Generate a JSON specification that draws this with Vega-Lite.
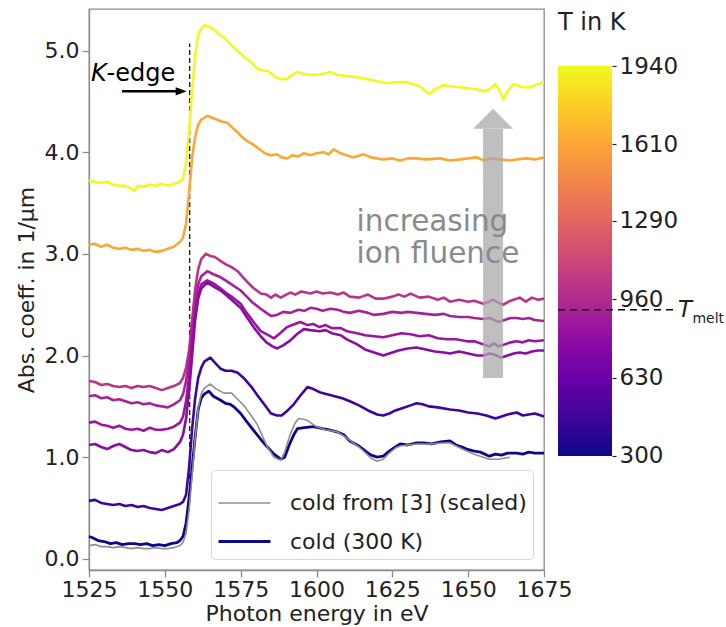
{
"$schema": "https://vega.github.io/schema/vega-lite/v6.json",
"padding": {"left": 14, "top": 8, "right": 2, "bottom": 2},
"config": {"font": "DejaVu Sans", "axis": {"grid": false}},
"bounds": "flush",
"spacing": 14,
"datasets": {
"hot": [
{"T":1940,"E":1525,"A":3.72},{"T":1940,"E":1527,"A":3.71},{"T":1940,"E":1529,"A":3.70},{"T":1940,"E":1531,"A":3.71},{"T":1940,"E":1533,"A":3.68},{"T":1940,"E":1535,"A":3.67},{"T":1940,"E":1537,"A":3.67},{"T":1940,"E":1539,"A":3.64},{"T":1940,"E":1540,"A":3.62},{"T":1940,"E":1541,"A":3.67},{"T":1940,"E":1543,"A":3.66},{"T":1940,"E":1545,"A":3.68},{"T":1940,"E":1547,"A":3.67},{"T":1940,"E":1549,"A":3.69},{"T":1940,"E":1551,"A":3.67},{"T":1940,"E":1553,"A":3.69},{"T":1940,"E":1555,"A":3.71},{"T":1940,"E":1556,"A":3.74},{"T":1940,"E":1557,"A":3.90},{"T":1940,"E":1558,"A":4.20},{"T":1940,"E":1559,"A":4.60},{"T":1940,"E":1560,"A":4.95},{"T":1940,"E":1561,"A":5.15},{"T":1940,"E":1562,"A":5.22},{"T":1940,"E":1563,"A":5.25},{"T":1940,"E":1564.5,"A":5.24},{"T":1940,"E":1566,"A":5.21},{"T":1940,"E":1568,"A":5.16},{"T":1940,"E":1569.5,"A":5.13},{"T":1940,"E":1572,"A":5.05},{"T":1940,"E":1575,"A":4.97},{"T":1940,"E":1577,"A":4.92},{"T":1940,"E":1579,"A":4.87},{"T":1940,"E":1580.5,"A":4.82},{"T":1940,"E":1582,"A":4.81},{"T":1940,"E":1584,"A":4.80},{"T":1940,"E":1586,"A":4.75},{"T":1940,"E":1588,"A":4.72},{"T":1940,"E":1590,"A":4.72},{"T":1940,"E":1592,"A":4.76},{"T":1940,"E":1593.6,"A":4.79},{"T":1940,"E":1596,"A":4.77},{"T":1940,"E":1599,"A":4.76},{"T":1940,"E":1602,"A":4.77},{"T":1940,"E":1604.6,"A":4.79},{"T":1940,"E":1607,"A":4.76},{"T":1940,"E":1610,"A":4.75},{"T":1940,"E":1613,"A":4.74},{"T":1940,"E":1616.7,"A":4.72},{"T":1940,"E":1620,"A":4.70},{"T":1940,"E":1623.3,"A":4.68},{"T":1940,"E":1626,"A":4.69},{"T":1940,"E":1629.8,"A":4.69},{"T":1940,"E":1632,"A":4.67},{"T":1940,"E":1634,"A":4.65},{"T":1940,"E":1636,"A":4.60},{"T":1940,"E":1637,"A":4.57},{"T":1940,"E":1639,"A":4.62},{"T":1940,"E":1641.8,"A":4.66},{"T":1940,"E":1644,"A":4.65},{"T":1940,"E":1647.4,"A":4.64},{"T":1940,"E":1650,"A":4.63},{"T":1940,"E":1653,"A":4.62},{"T":1940,"E":1655,"A":4.60},{"T":1940,"E":1657,"A":4.62},{"T":1940,"E":1659,"A":4.67},{"T":1940,"E":1660.5,"A":4.60},{"T":1940,"E":1661.6,"A":4.52},{"T":1940,"E":1663,"A":4.60},{"T":1940,"E":1665,"A":4.67},{"T":1940,"E":1668,"A":4.64},{"T":1940,"E":1670.4,"A":4.64},{"T":1940,"E":1673,"A":4.67},{"T":1940,"E":1675,"A":4.69},
{"T":1610,"E":1525,"A":3.09},{"T":1610,"E":1527,"A":3.10},{"T":1610,"E":1529,"A":3.07},{"T":1610,"E":1531,"A":3.09},{"T":1610,"E":1533,"A":3.06},{"T":1610,"E":1535,"A":3.05},{"T":1610,"E":1537,"A":3.06},{"T":1610,"E":1539,"A":3.04},{"T":1610,"E":1541,"A":3.05},{"T":1610,"E":1543,"A":3.03},{"T":1610,"E":1545,"A":3.04},{"T":1610,"E":1547,"A":3.02},{"T":1610,"E":1549,"A":3.03},{"T":1610,"E":1551,"A":3.05},{"T":1610,"E":1553,"A":3.07},{"T":1610,"E":1555,"A":3.12},{"T":1610,"E":1556,"A":3.16},{"T":1610,"E":1557,"A":3.30},{"T":1610,"E":1558,"A":3.60},{"T":1610,"E":1559,"A":3.95},{"T":1610,"E":1560,"A":4.15},{"T":1610,"E":1561,"A":4.27},{"T":1610,"E":1562,"A":4.32},{"T":1610,"E":1564,"A":4.36},{"T":1610,"E":1565.5,"A":4.34},{"T":1610,"E":1567.3,"A":4.32},{"T":1610,"E":1569,"A":4.30},{"T":1610,"E":1570.6,"A":4.29},{"T":1610,"E":1572,"A":4.25},{"T":1610,"E":1573.9,"A":4.20},{"T":1610,"E":1575.5,"A":4.15},{"T":1610,"E":1577.2,"A":4.11},{"T":1610,"E":1579.5,"A":4.07},{"T":1610,"E":1581.6,"A":4.02},{"T":1610,"E":1583,"A":3.99},{"T":1610,"E":1584.9,"A":3.97},{"T":1610,"E":1587,"A":3.98},{"T":1610,"E":1588.5,"A":3.95},{"T":1610,"E":1590.4,"A":3.94},{"T":1610,"E":1592,"A":3.97},{"T":1610,"E":1594,"A":3.96},{"T":1610,"E":1595.8,"A":3.99},{"T":1610,"E":1598,"A":3.97},{"T":1610,"E":1600,"A":3.99},{"T":1610,"E":1602.4,"A":4.00},{"T":1610,"E":1604,"A":3.98},{"T":1610,"E":1605.7,"A":4.03},{"T":1610,"E":1608,"A":3.99},{"T":1610,"E":1610,"A":3.97},{"T":1610,"E":1612,"A":3.95},{"T":1610,"E":1615.6,"A":3.98},{"T":1610,"E":1618,"A":3.95},{"T":1610,"E":1622,"A":3.93},{"T":1610,"E":1625,"A":3.94},{"T":1610,"E":1627.6,"A":3.92},{"T":1610,"E":1630,"A":3.94},{"T":1610,"E":1633,"A":3.94},{"T":1610,"E":1636,"A":3.93},{"T":1610,"E":1640.8,"A":3.94},{"T":1610,"E":1644,"A":3.92},{"T":1610,"E":1647.4,"A":3.93},{"T":1610,"E":1650,"A":3.94},{"T":1610,"E":1652.9,"A":3.95},{"T":1610,"E":1655,"A":3.92},{"T":1610,"E":1657.2,"A":3.94},{"T":1610,"E":1660,"A":3.93},{"T":1610,"E":1663.8,"A":3.92},{"T":1610,"E":1666,"A":3.93},{"T":1610,"E":1669.3,"A":3.94},{"T":1610,"E":1672,"A":3.93},{"T":1610,"E":1675,"A":3.95},
{"T":1005,"E":1525,"A":1.75},{"T":1005,"E":1527,"A":1.74},{"T":1005,"E":1529,"A":1.71},{"T":1005,"E":1531,"A":1.72},{"T":1005,"E":1533,"A":1.70},{"T":1005,"E":1535,"A":1.69},{"T":1005,"E":1537,"A":1.70},{"T":1005,"E":1539,"A":1.68},{"T":1005,"E":1541,"A":1.70},{"T":1005,"E":1543,"A":1.69},{"T":1005,"E":1545,"A":1.70},{"T":1005,"E":1547,"A":1.68},{"T":1005,"E":1549,"A":1.66},{"T":1005,"E":1551,"A":1.68},{"T":1005,"E":1553,"A":1.70},{"T":1005,"E":1555,"A":1.73},{"T":1005,"E":1556,"A":1.78},{"T":1005,"E":1557,"A":1.88},{"T":1005,"E":1558,"A":2.05},{"T":1005,"E":1559,"A":2.35},{"T":1005,"E":1560,"A":2.65},{"T":1005,"E":1561,"A":2.85},{"T":1005,"E":1562,"A":2.95},{"T":1005,"E":1563.5,"A":3.00},{"T":1005,"E":1565,"A":2.98},{"T":1005,"E":1566.5,"A":2.97},{"T":1005,"E":1568.4,"A":2.93},{"T":1005,"E":1570,"A":2.90},{"T":1005,"E":1572,"A":2.87},{"T":1005,"E":1574,"A":2.83},{"T":1005,"E":1575.5,"A":2.78},{"T":1005,"E":1577,"A":2.73},{"T":1005,"E":1579,"A":2.67},{"T":1005,"E":1581.6,"A":2.61},{"T":1005,"E":1583.5,"A":2.60},{"T":1005,"E":1585,"A":2.57},{"T":1005,"E":1586.5,"A":2.60},{"T":1005,"E":1588.2,"A":2.57},{"T":1005,"E":1590,"A":2.60},{"T":1005,"E":1591.4,"A":2.62},{"T":1005,"E":1593,"A":2.60},{"T":1005,"E":1595,"A":2.63},{"T":1005,"E":1598,"A":2.61},{"T":1005,"E":1600,"A":2.63},{"T":1005,"E":1602,"A":2.61},{"T":1005,"E":1604.6,"A":2.62},{"T":1005,"E":1607,"A":2.60},{"T":1005,"E":1609,"A":2.62},{"T":1005,"E":1611,"A":2.58},{"T":1005,"E":1614,"A":2.57},{"T":1005,"E":1617,"A":2.60},{"T":1005,"E":1619.5,"A":2.56},{"T":1005,"E":1622,"A":2.56},{"T":1005,"E":1625,"A":2.58},{"T":1005,"E":1627,"A":2.60},{"T":1005,"E":1629,"A":2.58},{"T":1005,"E":1631,"A":2.61},{"T":1005,"E":1634,"A":2.57},{"T":1005,"E":1637,"A":2.58},{"T":1005,"E":1640,"A":2.55},{"T":1005,"E":1642,"A":2.57},{"T":1005,"E":1644,"A":2.53},{"T":1005,"E":1647,"A":2.55},{"T":1005,"E":1650,"A":2.53},{"T":1005,"E":1652,"A":2.54},{"T":1005,"E":1655,"A":2.51},{"T":1005,"E":1657,"A":2.53},{"T":1005,"E":1658,"A":2.55},{"T":1005,"E":1660,"A":2.52},{"T":1005,"E":1661.5,"A":2.50},{"T":1005,"E":1664,"A":2.54},{"T":1005,"E":1667,"A":2.57},{"T":1005,"E":1669,"A":2.53},{"T":1005,"E":1671,"A":2.57},{"T":1005,"E":1673,"A":2.55},{"T":1005,"E":1675,"A":2.56},
{"T":905,"E":1525,"A":1.60},{"T":905,"E":1527,"A":1.61},{"T":905,"E":1529,"A":1.58},{"T":905,"E":1531,"A":1.59},{"T":905,"E":1533,"A":1.56},{"T":905,"E":1535,"A":1.57},{"T":905,"E":1537,"A":1.55},{"T":905,"E":1539,"A":1.53},{"T":905,"E":1541,"A":1.54},{"T":905,"E":1543,"A":1.52},{"T":905,"E":1545,"A":1.53},{"T":905,"E":1547,"A":1.51},{"T":905,"E":1549,"A":1.50},{"T":905,"E":1551,"A":1.49},{"T":905,"E":1553,"A":1.52},{"T":905,"E":1555,"A":1.56},{"T":905,"E":1556,"A":1.62},{"T":905,"E":1557,"A":1.75},{"T":905,"E":1558,"A":1.95},{"T":905,"E":1559,"A":2.25},{"T":905,"E":1560,"A":2.52},{"T":905,"E":1561,"A":2.70},{"T":905,"E":1562,"A":2.78},{"T":905,"E":1564,"A":2.83},{"T":905,"E":1566,"A":2.80},{"T":905,"E":1568.4,"A":2.77},{"T":905,"E":1570,"A":2.74},{"T":905,"E":1572,"A":2.70},{"T":905,"E":1575,"A":2.64},{"T":905,"E":1577,"A":2.58},{"T":905,"E":1579,"A":2.52},{"T":905,"E":1581.6,"A":2.46},{"T":905,"E":1583.5,"A":2.42},{"T":905,"E":1585,"A":2.39},{"T":905,"E":1587,"A":2.40},{"T":905,"E":1589,"A":2.43},{"T":905,"E":1591.4,"A":2.42},{"T":905,"E":1594,"A":2.45},{"T":905,"E":1596,"A":2.44},{"T":905,"E":1598,"A":2.47},{"T":905,"E":1600,"A":2.46},{"T":905,"E":1602,"A":2.44},{"T":905,"E":1604.6,"A":2.46},{"T":905,"E":1607,"A":2.45},{"T":905,"E":1609,"A":2.43},{"T":905,"E":1611,"A":2.42},{"T":905,"E":1614,"A":2.44},{"T":905,"E":1617,"A":2.42},{"T":905,"E":1619,"A":2.40},{"T":905,"E":1622,"A":2.41},{"T":905,"E":1625,"A":2.43},{"T":905,"E":1628,"A":2.42},{"T":905,"E":1630,"A":2.43},{"T":905,"E":1633,"A":2.42},{"T":905,"E":1636,"A":2.41},{"T":905,"E":1639,"A":2.40},{"T":905,"E":1642,"A":2.41},{"T":905,"E":1644,"A":2.39},{"T":905,"E":1647,"A":2.38},{"T":905,"E":1650,"A":2.38},{"T":905,"E":1652,"A":2.37},{"T":905,"E":1655,"A":2.36},{"T":905,"E":1657,"A":2.37},{"T":905,"E":1658.5,"A":2.35},{"T":905,"E":1660,"A":2.33},{"T":905,"E":1662,"A":2.35},{"T":905,"E":1664,"A":2.37},{"T":905,"E":1666,"A":2.37},{"T":905,"E":1668,"A":2.36},{"T":905,"E":1670,"A":2.37},{"T":905,"E":1672,"A":2.35},{"T":905,"E":1675,"A":2.34},
{"T":840,"E":1525,"A":1.34},{"T":840,"E":1527,"A":1.35},{"T":840,"E":1529,"A":1.32},{"T":840,"E":1531,"A":1.31},{"T":840,"E":1533,"A":1.29},{"T":840,"E":1535,"A":1.31},{"T":840,"E":1537,"A":1.28},{"T":840,"E":1539,"A":1.27},{"T":840,"E":1541,"A":1.28},{"T":840,"E":1543,"A":1.26},{"T":840,"E":1545,"A":1.29},{"T":840,"E":1547,"A":1.27},{"T":840,"E":1549,"A":1.27},{"T":840,"E":1551,"A":1.28},{"T":840,"E":1553,"A":1.30},{"T":840,"E":1555,"A":1.34},{"T":840,"E":1556,"A":1.40},{"T":840,"E":1557,"A":1.55},{"T":840,"E":1558,"A":1.80},{"T":840,"E":1559,"A":2.12},{"T":840,"E":1560,"A":2.42},{"T":840,"E":1561,"A":2.60},{"T":840,"E":1562,"A":2.70},{"T":840,"E":1564,"A":2.74},{"T":840,"E":1566,"A":2.71},{"T":840,"E":1568.4,"A":2.66},{"T":840,"E":1570,"A":2.62},{"T":840,"E":1572,"A":2.58},{"T":840,"E":1575,"A":2.51},{"T":840,"E":1577,"A":2.42},{"T":840,"E":1579.5,"A":2.32},{"T":840,"E":1581.6,"A":2.24},{"T":840,"E":1583.5,"A":2.21},{"T":840,"E":1586,"A":2.17},{"T":840,"E":1588,"A":2.22},{"T":840,"E":1590.3,"A":2.28},{"T":840,"E":1592,"A":2.30},{"T":840,"E":1594.7,"A":2.33},{"T":840,"E":1597,"A":2.30},{"T":840,"E":1599,"A":2.31},{"T":840,"E":1601,"A":2.28},{"T":840,"E":1603,"A":2.30},{"T":840,"E":1605,"A":2.27},{"T":840,"E":1608,"A":2.27},{"T":840,"E":1610,"A":2.24},{"T":840,"E":1613.4,"A":2.22},{"T":840,"E":1616,"A":2.20},{"T":840,"E":1619,"A":2.19},{"T":840,"E":1622,"A":2.18},{"T":840,"E":1625,"A":2.20},{"T":840,"E":1628,"A":2.22},{"T":840,"E":1631,"A":2.21},{"T":840,"E":1634,"A":2.19},{"T":840,"E":1637,"A":2.20},{"T":840,"E":1640,"A":2.17},{"T":840,"E":1643,"A":2.16},{"T":840,"E":1646,"A":2.16},{"T":840,"E":1649.6,"A":2.14},{"T":840,"E":1652,"A":2.14},{"T":840,"E":1655,"A":2.11},{"T":840,"E":1657,"A":2.09},{"T":840,"E":1658.5,"A":2.12},{"T":840,"E":1660,"A":2.09},{"T":840,"E":1662,"A":2.11},{"T":840,"E":1664,"A":2.13},{"T":840,"E":1666,"A":2.14},{"T":840,"E":1668,"A":2.13},{"T":840,"E":1670,"A":2.15},{"T":840,"E":1672,"A":2.14},{"T":840,"E":1675,"A":2.15},
{"T":775,"E":1525,"A":1.12},{"T":775,"E":1527,"A":1.13},{"T":775,"E":1529,"A":1.10},{"T":775,"E":1531,"A":1.08},{"T":775,"E":1533,"A":1.11},{"T":775,"E":1535,"A":1.13},{"T":775,"E":1537,"A":1.10},{"T":775,"E":1539,"A":1.07},{"T":775,"E":1541,"A":1.06},{"T":775,"E":1543,"A":1.07},{"T":775,"E":1545,"A":1.05},{"T":775,"E":1547,"A":1.04},{"T":775,"E":1549,"A":1.07},{"T":775,"E":1551,"A":1.05},{"T":775,"E":1553,"A":1.08},{"T":775,"E":1555,"A":1.15},{"T":775,"E":1556,"A":1.22},{"T":775,"E":1557,"A":1.38},{"T":775,"E":1558,"A":1.65},{"T":775,"E":1559,"A":2.00},{"T":775,"E":1560,"A":2.35},{"T":775,"E":1561,"A":2.56},{"T":775,"E":1562,"A":2.66},{"T":775,"E":1564,"A":2.72},{"T":775,"E":1566,"A":2.68},{"T":775,"E":1568.4,"A":2.64},{"T":775,"E":1570,"A":2.60},{"T":775,"E":1572,"A":2.55},{"T":775,"E":1575,"A":2.47},{"T":775,"E":1577,"A":2.38},{"T":775,"E":1579.5,"A":2.27},{"T":775,"E":1581.6,"A":2.19},{"T":775,"E":1583.5,"A":2.13},{"T":775,"E":1585.5,"A":2.09},{"T":775,"E":1587,"A":2.07},{"T":775,"E":1589,"A":2.10},{"T":775,"E":1591.4,"A":2.15},{"T":775,"E":1593.5,"A":2.21},{"T":775,"E":1595.8,"A":2.26},{"T":775,"E":1598,"A":2.25},{"T":775,"E":1601,"A":2.24},{"T":775,"E":1603,"A":2.25},{"T":775,"E":1605,"A":2.22},{"T":775,"E":1608,"A":2.20},{"T":775,"E":1610,"A":2.16},{"T":775,"E":1613.4,"A":2.11},{"T":775,"E":1616,"A":2.06},{"T":775,"E":1619,"A":2.03},{"T":775,"E":1622,"A":2.00},{"T":775,"E":1624,"A":2.02},{"T":775,"E":1627,"A":2.05},{"T":775,"E":1630,"A":2.07},{"T":775,"E":1633,"A":2.08},{"T":775,"E":1636,"A":2.06},{"T":775,"E":1639,"A":2.04},{"T":775,"E":1642,"A":2.03},{"T":775,"E":1644,"A":2.02},{"T":775,"E":1647,"A":2.04},{"T":775,"E":1650,"A":2.02},{"T":775,"E":1653,"A":2.00},{"T":775,"E":1655,"A":2.00},{"T":775,"E":1657,"A":2.02},{"T":775,"E":1658.5,"A":2.01},{"T":775,"E":1661,"A":1.98},{"T":775,"E":1663,"A":2.00},{"T":775,"E":1665,"A":2.02},{"T":775,"E":1667,"A":2.03},{"T":775,"E":1669,"A":2.02},{"T":775,"E":1671,"A":2.04},{"T":775,"E":1673,"A":2.05},{"T":775,"E":1675,"A":2.05},
{"T":450,"E":1525,"A":0.57},{"T":450,"E":1527,"A":0.58},{"T":450,"E":1529,"A":0.55},{"T":450,"E":1531,"A":0.54},{"T":450,"E":1533,"A":0.53},{"T":450,"E":1535,"A":0.54},{"T":450,"E":1537,"A":0.52},{"T":450,"E":1539,"A":0.53},{"T":450,"E":1541,"A":0.51},{"T":450,"E":1543,"A":0.52},{"T":450,"E":1545,"A":0.50},{"T":450,"E":1547,"A":0.49},{"T":450,"E":1549,"A":0.48},{"T":450,"E":1551,"A":0.50},{"T":450,"E":1553,"A":0.52},{"T":450,"E":1555,"A":0.54},{"T":450,"E":1556,"A":0.56},{"T":450,"E":1557,"A":0.63},{"T":450,"E":1558,"A":0.90},{"T":450,"E":1559,"A":1.28},{"T":450,"E":1560,"A":1.58},{"T":450,"E":1561,"A":1.78},{"T":450,"E":1562,"A":1.88},{"T":450,"E":1563,"A":1.94},{"T":450,"E":1565,"A":1.98},{"T":450,"E":1566.5,"A":1.93},{"T":450,"E":1568.4,"A":1.87},{"T":450,"E":1570,"A":1.85},{"T":450,"E":1572,"A":1.85},{"T":450,"E":1574,"A":1.83},{"T":450,"E":1576,"A":1.78},{"T":450,"E":1578.6,"A":1.69},{"T":450,"E":1580.5,"A":1.61},{"T":450,"E":1582.5,"A":1.53},{"T":450,"E":1585,"A":1.43},{"T":450,"E":1587,"A":1.41},{"T":450,"E":1588.5,"A":1.41},{"T":450,"E":1590.5,"A":1.46},{"T":450,"E":1592.5,"A":1.52},{"T":450,"E":1594.5,"A":1.60},{"T":450,"E":1597,"A":1.69},{"T":450,"E":1599,"A":1.67},{"T":450,"E":1601,"A":1.64},{"T":450,"E":1603.5,"A":1.62},{"T":450,"E":1606,"A":1.60},{"T":450,"E":1608.5,"A":1.58},{"T":450,"E":1611,"A":1.55},{"T":450,"E":1614,"A":1.51},{"T":450,"E":1617,"A":1.46},{"T":450,"E":1620,"A":1.42},{"T":450,"E":1622,"A":1.41},{"T":450,"E":1624,"A":1.43},{"T":450,"E":1626,"A":1.46},{"T":450,"E":1628,"A":1.48},{"T":450,"E":1631,"A":1.51},{"T":450,"E":1633,"A":1.53},{"T":450,"E":1635,"A":1.52},{"T":450,"E":1637,"A":1.50},{"T":450,"E":1640,"A":1.49},{"T":450,"E":1644,"A":1.47},{"T":450,"E":1647,"A":1.46},{"T":450,"E":1650,"A":1.44},{"T":450,"E":1653,"A":1.43},{"T":450,"E":1656,"A":1.41},{"T":450,"E":1659,"A":1.38},{"T":450,"E":1661,"A":1.40},{"T":450,"E":1663,"A":1.42},{"T":450,"E":1666,"A":1.44},{"T":450,"E":1668,"A":1.41},{"T":450,"E":1670,"A":1.42},{"T":450,"E":1672,"A":1.43},{"T":450,"E":1675,"A":1.40}
],
"cold": [
{"L":"cold (300 K)","E":1525,"A":0.22},{"L":"cold (300 K)","E":1526,"A":0.21},{"L":"cold (300 K)","E":1528,"A":0.18},{"L":"cold (300 K)","E":1530,"A":0.17},{"L":"cold (300 K)","E":1532,"A":0.15},{"L":"cold (300 K)","E":1534,"A":0.16},{"L":"cold (300 K)","E":1536,"A":0.14},{"L":"cold (300 K)","E":1538,"A":0.15},{"L":"cold (300 K)","E":1540,"A":0.15},{"L":"cold (300 K)","E":1542,"A":0.14},{"L":"cold (300 K)","E":1544,"A":0.15},{"L":"cold (300 K)","E":1546,"A":0.13},{"L":"cold (300 K)","E":1548,"A":0.14},{"L":"cold (300 K)","E":1550,"A":0.13},{"L":"cold (300 K)","E":1552,"A":0.15},{"L":"cold (300 K)","E":1554,"A":0.16},{"L":"cold (300 K)","E":1555,"A":0.18},{"L":"cold (300 K)","E":1556,"A":0.22},{"L":"cold (300 K)","E":1557,"A":0.35},{"L":"cold (300 K)","E":1558,"A":0.60},{"L":"cold (300 K)","E":1559,"A":0.90},{"L":"cold (300 K)","E":1560,"A":1.20},{"L":"cold (300 K)","E":1561,"A":1.47},{"L":"cold (300 K)","E":1562,"A":1.58},{"L":"cold (300 K)","E":1563,"A":1.62},{"L":"cold (300 K)","E":1564.5,"A":1.65},{"L":"cold (300 K)","E":1566,"A":1.60},{"L":"cold (300 K)","E":1568.4,"A":1.56},{"L":"cold (300 K)","E":1570,"A":1.53},{"L":"cold (300 K)","E":1571.6,"A":1.52},{"L":"cold (300 K)","E":1573,"A":1.49},{"L":"cold (300 K)","E":1575,"A":1.43},{"L":"cold (300 K)","E":1577,"A":1.35},{"L":"cold (300 K)","E":1579.4,"A":1.26},{"L":"cold (300 K)","E":1581.5,"A":1.18},{"L":"cold (300 K)","E":1583.8,"A":1.10},{"L":"cold (300 K)","E":1586,"A":1.03},{"L":"cold (300 K)","E":1588.2,"A":0.98},{"L":"cold (300 K)","E":1589.5,"A":1.00},{"L":"cold (300 K)","E":1591,"A":1.12},{"L":"cold (300 K)","E":1592.5,"A":1.22},{"L":"cold (300 K)","E":1593.7,"A":1.28},{"L":"cold (300 K)","E":1596,"A":1.29},{"L":"cold (300 K)","E":1599,"A":1.30},{"L":"cold (300 K)","E":1602,"A":1.28},{"L":"cold (300 K)","E":1604,"A":1.27},{"L":"cold (300 K)","E":1606.7,"A":1.25},{"L":"cold (300 K)","E":1609,"A":1.22},{"L":"cold (300 K)","E":1611,"A":1.16},{"L":"cold (300 K)","E":1614,"A":1.11},{"L":"cold (300 K)","E":1616.6,"A":1.05},{"L":"cold (300 K)","E":1618,"A":1.02},{"L":"cold (300 K)","E":1620,"A":1.00},{"L":"cold (300 K)","E":1622,"A":1.01},{"L":"cold (300 K)","E":1624,"A":1.06},{"L":"cold (300 K)","E":1626,"A":1.10},{"L":"cold (300 K)","E":1627.6,"A":1.13},{"L":"cold (300 K)","E":1630,"A":1.12},{"L":"cold (300 K)","E":1633,"A":1.14},{"L":"cold (300 K)","E":1635.3,"A":1.14},{"L":"cold (300 K)","E":1638,"A":1.13},{"L":"cold (300 K)","E":1641,"A":1.15},{"L":"cold (300 K)","E":1644,"A":1.16},{"L":"cold (300 K)","E":1646,"A":1.12},{"L":"cold (300 K)","E":1648,"A":1.10},{"L":"cold (300 K)","E":1649.5,"A":1.08},{"L":"cold (300 K)","E":1652,"A":1.06},{"L":"cold (300 K)","E":1654,"A":1.05},{"L":"cold (300 K)","E":1657,"A":1.01},{"L":"cold (300 K)","E":1659,"A":1.03},{"L":"cold (300 K)","E":1661,"A":1.02},{"L":"cold (300 K)","E":1663,"A":1.04},{"L":"cold (300 K)","E":1666,"A":1.04},{"L":"cold (300 K)","E":1668,"A":1.03},{"L":"cold (300 K)","E":1670,"A":1.05},{"L":"cold (300 K)","E":1672,"A":1.04},{"L":"cold (300 K)","E":1675,"A":1.04},
{"L":"cold from [3] (scaled)","E":1525,"A":0.13},{"L":"cold from [3] (scaled)","E":1527,"A":0.14},{"L":"cold from [3] (scaled)","E":1529,"A":0.12},{"L":"cold from [3] (scaled)","E":1531,"A":0.12},{"L":"cold from [3] (scaled)","E":1533,"A":0.11},{"L":"cold from [3] (scaled)","E":1535,"A":0.12},{"L":"cold from [3] (scaled)","E":1537,"A":0.11},{"L":"cold from [3] (scaled)","E":1539,"A":0.10},{"L":"cold from [3] (scaled)","E":1541,"A":0.11},{"L":"cold from [3] (scaled)","E":1543,"A":0.10},{"L":"cold from [3] (scaled)","E":1545,"A":0.10},{"L":"cold from [3] (scaled)","E":1547,"A":0.11},{"L":"cold from [3] (scaled)","E":1549,"A":0.10},{"L":"cold from [3] (scaled)","E":1551,"A":0.10},{"L":"cold from [3] (scaled)","E":1553,"A":0.11},{"L":"cold from [3] (scaled)","E":1555,"A":0.13},{"L":"cold from [3] (scaled)","E":1556,"A":0.16},{"L":"cold from [3] (scaled)","E":1557,"A":0.25},{"L":"cold from [3] (scaled)","E":1558,"A":0.48},{"L":"cold from [3] (scaled)","E":1559,"A":0.82},{"L":"cold from [3] (scaled)","E":1560,"A":1.18},{"L":"cold from [3] (scaled)","E":1561,"A":1.48},{"L":"cold from [3] (scaled)","E":1562,"A":1.62},{"L":"cold from [3] (scaled)","E":1563,"A":1.68},{"L":"cold from [3] (scaled)","E":1565,"A":1.72},{"L":"cold from [3] (scaled)","E":1567,"A":1.67},{"L":"cold from [3] (scaled)","E":1569.5,"A":1.63},{"L":"cold from [3] (scaled)","E":1572,"A":1.63},{"L":"cold from [3] (scaled)","E":1574,"A":1.57},{"L":"cold from [3] (scaled)","E":1576,"A":1.51},{"L":"cold from [3] (scaled)","E":1578,"A":1.43},{"L":"cold from [3] (scaled)","E":1580.5,"A":1.32},{"L":"cold from [3] (scaled)","E":1582,"A":1.22},{"L":"cold from [3] (scaled)","E":1583.8,"A":1.10},{"L":"cold from [3] (scaled)","E":1586,"A":1.00},{"L":"cold from [3] (scaled)","E":1588.2,"A":0.97},{"L":"cold from [3] (scaled)","E":1589.5,"A":1.05},{"L":"cold from [3] (scaled)","E":1591.4,"A":1.23},{"L":"cold from [3] (scaled)","E":1593,"A":1.34},{"L":"cold from [3] (scaled)","E":1594.2,"A":1.38},{"L":"cold from [3] (scaled)","E":1596,"A":1.37},{"L":"cold from [3] (scaled)","E":1597,"A":1.36},{"L":"cold from [3] (scaled)","E":1600,"A":1.30},{"L":"cold from [3] (scaled)","E":1603,"A":1.27},{"L":"cold from [3] (scaled)","E":1606.7,"A":1.25},{"L":"cold from [3] (scaled)","E":1610,"A":1.19},{"L":"cold from [3] (scaled)","E":1614,"A":1.10},{"L":"cold from [3] (scaled)","E":1616.6,"A":1.03},{"L":"cold from [3] (scaled)","E":1618,"A":0.99},{"L":"cold from [3] (scaled)","E":1620,"A":0.96},{"L":"cold from [3] (scaled)","E":1622,"A":0.98},{"L":"cold from [3] (scaled)","E":1624,"A":1.04},{"L":"cold from [3] (scaled)","E":1626,"A":1.09},{"L":"cold from [3] (scaled)","E":1627.6,"A":1.11},{"L":"cold from [3] (scaled)","E":1630,"A":1.12},{"L":"cold from [3] (scaled)","E":1633,"A":1.13},{"L":"cold from [3] (scaled)","E":1635.3,"A":1.13},{"L":"cold from [3] (scaled)","E":1638,"A":1.13},{"L":"cold from [3] (scaled)","E":1641,"A":1.14},{"L":"cold from [3] (scaled)","E":1644,"A":1.14},{"L":"cold from [3] (scaled)","E":1646,"A":1.11},{"L":"cold from [3] (scaled)","E":1648,"A":1.08},{"L":"cold from [3] (scaled)","E":1649.5,"A":1.06},{"L":"cold from [3] (scaled)","E":1652,"A":1.03},{"L":"cold from [3] (scaled)","E":1654,"A":1.01},{"L":"cold from [3] (scaled)","E":1657,"A":0.98},{"L":"cold from [3] (scaled)","E":1660,"A":0.98},{"L":"cold from [3] (scaled)","E":1663.7,"A":1.00}
]
},
"hconcat": [
{
"width": 455, "height": 561,
"view": {"stroke": "#8c8c8c", "strokeWidth": 1.3},
"layer": [
{"data": {"values": [{}]}, "mark": {"type": "rule", "color": "black", "strokeWidth": 1.2, "strokeDash": [5, 3]},
 "encoding": {"x": {"datum": 1558.2, "type": "quantitative"}, "y": {"datum": 0.55, "type": "quantitative"}, "y2": {"datum": 5.07}}},
{"data": {"name": "hot"}, "mark": {"type": "line", "strokeWidth": 2.6, "strokeJoin": "round"},
 "encoding": {
  "x": {"field": "E", "type": "quantitative", "scale": {"domain": [1525, 1675], "nice": false, "zero": false},
        "axis": {"title": "Photon energy in eV", "values": [1525, 1550, 1575, 1600, 1625, 1650, 1675], "format": "d", "labelOverlap": false, "labelFlush": false, "labelFontSize": 22, "titleFontSize": 22, "titleFontWeight": "normal", "tickSize": 7, "labelPadding": 2, "titlePadding": 3, "domainColor": "#8c8c8c", "tickColor": "#8c8c8c", "domainWidth": 1.3, "tickWidth": 1.3, "labelColor": "#222", "titleColor": "#222", "grid": false}},
  "y": {"field": "A", "type": "quantitative", "scale": {"domain": [-0.11, 5.41], "nice": false, "zero": false},
        "axis": {"title": "Abs. coeff. in 1/µm", "values": [0, 1, 2, 3, 4, 5], "format": ".1f", "labelOverlap": false, "labelFlush": false, "labelFontSize": 22, "titleFontSize": 22, "titleFontWeight": "normal", "tickSize": 7, "labelPadding": 3, "titlePadding": 6, "domainColor": "#8c8c8c", "tickColor": "#8c8c8c", "domainWidth": 1.3, "tickWidth": 1.3, "labelColor": "#222", "titleColor": "#222", "grid": false}},
  "color": {"field": "T", "type": "quantitative", "scale": {"scheme": "plasma", "domain": [300, 1940]}, "legend": null},
  "detail": {"field": "T", "type": "nominal"}
 }},
{"data": {"name": "cold"}, "mark": {"type": "line", "strokeJoin": "round"},
 "encoding": {
  "x": {"field": "E", "type": "quantitative"},
  "y": {"field": "A", "type": "quantitative"},
  "color": {"field": "L", "type": "nominal", "scale": {"domain": ["cold from [3] (scaled)", "cold (300 K)"], "range": ["#8f8f8f", "#0d0887"]},
            "legend": {"orient": "bottom-right", "offset": 11, "title": null, "symbolType": "stroke", "symbolSize": 2704, "labelFontSize": 22, "labelLimit": 400, "labelColor": "#222", "labelOffset": 18, "padding": 6, "rowPadding": -3, "fillColor": "rgba(255,255,255,0.92)", "strokeColor": "#d6d6d6", "cornerRadius": 4}},
  "strokeWidth": {"field": "L", "type": "nominal", "scale": {"domain": ["cold from [3] (scaled)", "cold (300 K)"], "range": [1.6, 2.8]},
            "legend": {"orient": "bottom-right", "offset": 11, "title": null, "symbolType": "stroke", "symbolSize": 2704, "labelFontSize": 22, "labelLimit": 400, "labelColor": "#222", "labelOffset": 18, "padding": 6, "rowPadding": -3, "fillColor": "rgba(255,255,255,0.92)", "strokeColor": "#d6d6d6", "cornerRadius": 4}}
 }},
{"data": {"values": [{}]}, "mark": {"type": "rule", "color": "#aaaaaa", "opacity": 0.75, "strokeWidth": 20, "strokeCap": "butt"},
 "encoding": {"x": {"datum": 1658.2, "type": "quantitative"}, "y": {"datum": 1.78, "type": "quantitative"}, "y2": {"datum": 4.23}}},
{"data": {"values": [{}]}, "mark": {"type": "point", "shape": "M-1,0.5L0,-0.5L1,0.5Z", "size": 1600, "filled": true, "color": "#aaaaaa", "opacity": 0.75, "strokeWidth": 0},
 "encoding": {"x": {"datum": 1658.2, "type": "quantitative"}, "y": {"datum": 4.33, "type": "quantitative"}}},
{"data": {"values": [{}]}, "mark": {"type": "text", "text": ["increasing", "ion fluence"], "lineHeight": 32, "fontSize": 29.5, "color": "#8a8a8a", "align": "left", "baseline": "alphabetic"},
 "encoding": {"x": {"datum": 1613.2, "type": "quantitative"}, "y": {"datum": 3.23, "type": "quantitative"}}},
{"data": {"values": [{}]}, "mark": {"type": "rule", "color": "black", "strokeWidth": 2.5},
 "encoding": {"x": {"datum": 1535.9, "type": "quantitative"}, "x2": {"datum": 1555.0}, "y": {"datum": 4.60, "type": "quantitative"}}},
{"data": {"values": [{}]}, "mark": {"type": "point", "shape": "M-1,-0.75L1,0L-1,0.75Z", "size": 121, "filled": true, "color": "black", "opacity": 1, "strokeWidth": 0},
 "encoding": {"x": {"datum": 1555.4, "type": "quantitative"}, "y": {"datum": 4.60, "type": "quantitative"}}},
{"data": {"values": [{}]}, "mark": {"type": "text", "text": "K", "fontStyle": "italic", "fontSize": 24, "color": "black", "align": "left", "baseline": "alphabetic"},
 "encoding": {"x": {"datum": 1525.66, "type": "quantitative"}, "y": {"datum": 4.70, "type": "quantitative"}}},
{"data": {"values": [{}]}, "mark": {"type": "text", "text": "-edge", "fontSize": 24, "color": "black", "align": "left", "baseline": "alphabetic"},
 "encoding": {"x": {"datum": 1530.8, "type": "quantitative"}, "y": {"datum": 4.70, "type": "quantitative"}}}
],
"resolve": {"scale": {"color": "independent", "strokeWidth": "independent"}}
},
{
"width": 54, "height": 561,
"view": {"stroke": null},
"layer": [
{"data": {"values": [{"lo": 300, "hi": 1940}]},
 "mark": {"type": "rect", "stroke": null, "color": {"gradient": "linear", "x1": 0, "y1": 1, "x2": 0, "y2": 0, "stops": [
   {"offset": 0, "color": "#0d0887"}, {"offset": 0.1, "color": "#41049d"}, {"offset": 0.2, "color": "#6a00a8"}, {"offset": 0.3, "color": "#8f0da4"}, {"offset": 0.4, "color": "#b12a90"}, {"offset": 0.5, "color": "#cc4778"}, {"offset": 0.6, "color": "#e16462"}, {"offset": 0.7, "color": "#f2844b"}, {"offset": 0.8, "color": "#fca636"}, {"offset": 0.9, "color": "#fcce25"}, {"offset": 1, "color": "#f0f921"}]}},
 "encoding": {
  "x": {"datum": 0, "type": "quantitative", "scale": {"domain": [0, 1], "nice": false, "zero": false}, "axis": null},
  "x2": {"datum": 1},
  "y": {"field": "lo", "type": "quantitative", "scale": {"domain": [-179.4, 2179.7], "nice": false, "zero": false},
        "axis": {"orient": "right", "values": [300, 630, 960, 1290, 1610, 1940], "format": "d", "labelOverlap": false, "labelFlush": false, "title": null, "domain": false, "grid": false, "tickSize": 4, "tickColor": "#222", "tickWidth": 1.2, "labelFontSize": 23, "labelColor": "#222", "labelPadding": 3}},
  "y2": {"field": "hi"}
 }},
{"data": {"values": [{}]}, "mark": {"type": "rule", "color": "black", "strokeWidth": 1.5, "strokeDash": [7, 5]},
 "encoding": {"x": {"datum": 0, "type": "quantitative"}, "x2": {"datum": 2.15}, "y": {"datum": 915, "type": "quantitative"}}},
{"data": {"values": [{}]}, "mark": {"type": "text", "text": "T", "fontStyle": "italic", "fontSize": 23, "color": "#222", "align": "left", "baseline": "middle"},
 "encoding": {"x": {"datum": 2.22, "type": "quantitative"}, "y": {"datum": 915, "type": "quantitative"}}},
{"data": {"values": [{}]}, "mark": {"type": "text", "text": "melt", "fontSize": 14, "color": "#222", "align": "left", "baseline": "middle", "dy": 9},
 "encoding": {"x": {"datum": 2.49, "type": "quantitative"}, "y": {"datum": 915, "type": "quantitative"}}},
{"data": {"values": [{}]}, "mark": {"type": "text", "text": "T in K", "fontSize": 24, "color": "#222", "align": "left", "baseline": "middle"},
 "encoding": {"x": {"datum": 0, "type": "quantitative"}, "y": {"datum": 2121, "type": "quantitative"}}}
]
}
]
}
